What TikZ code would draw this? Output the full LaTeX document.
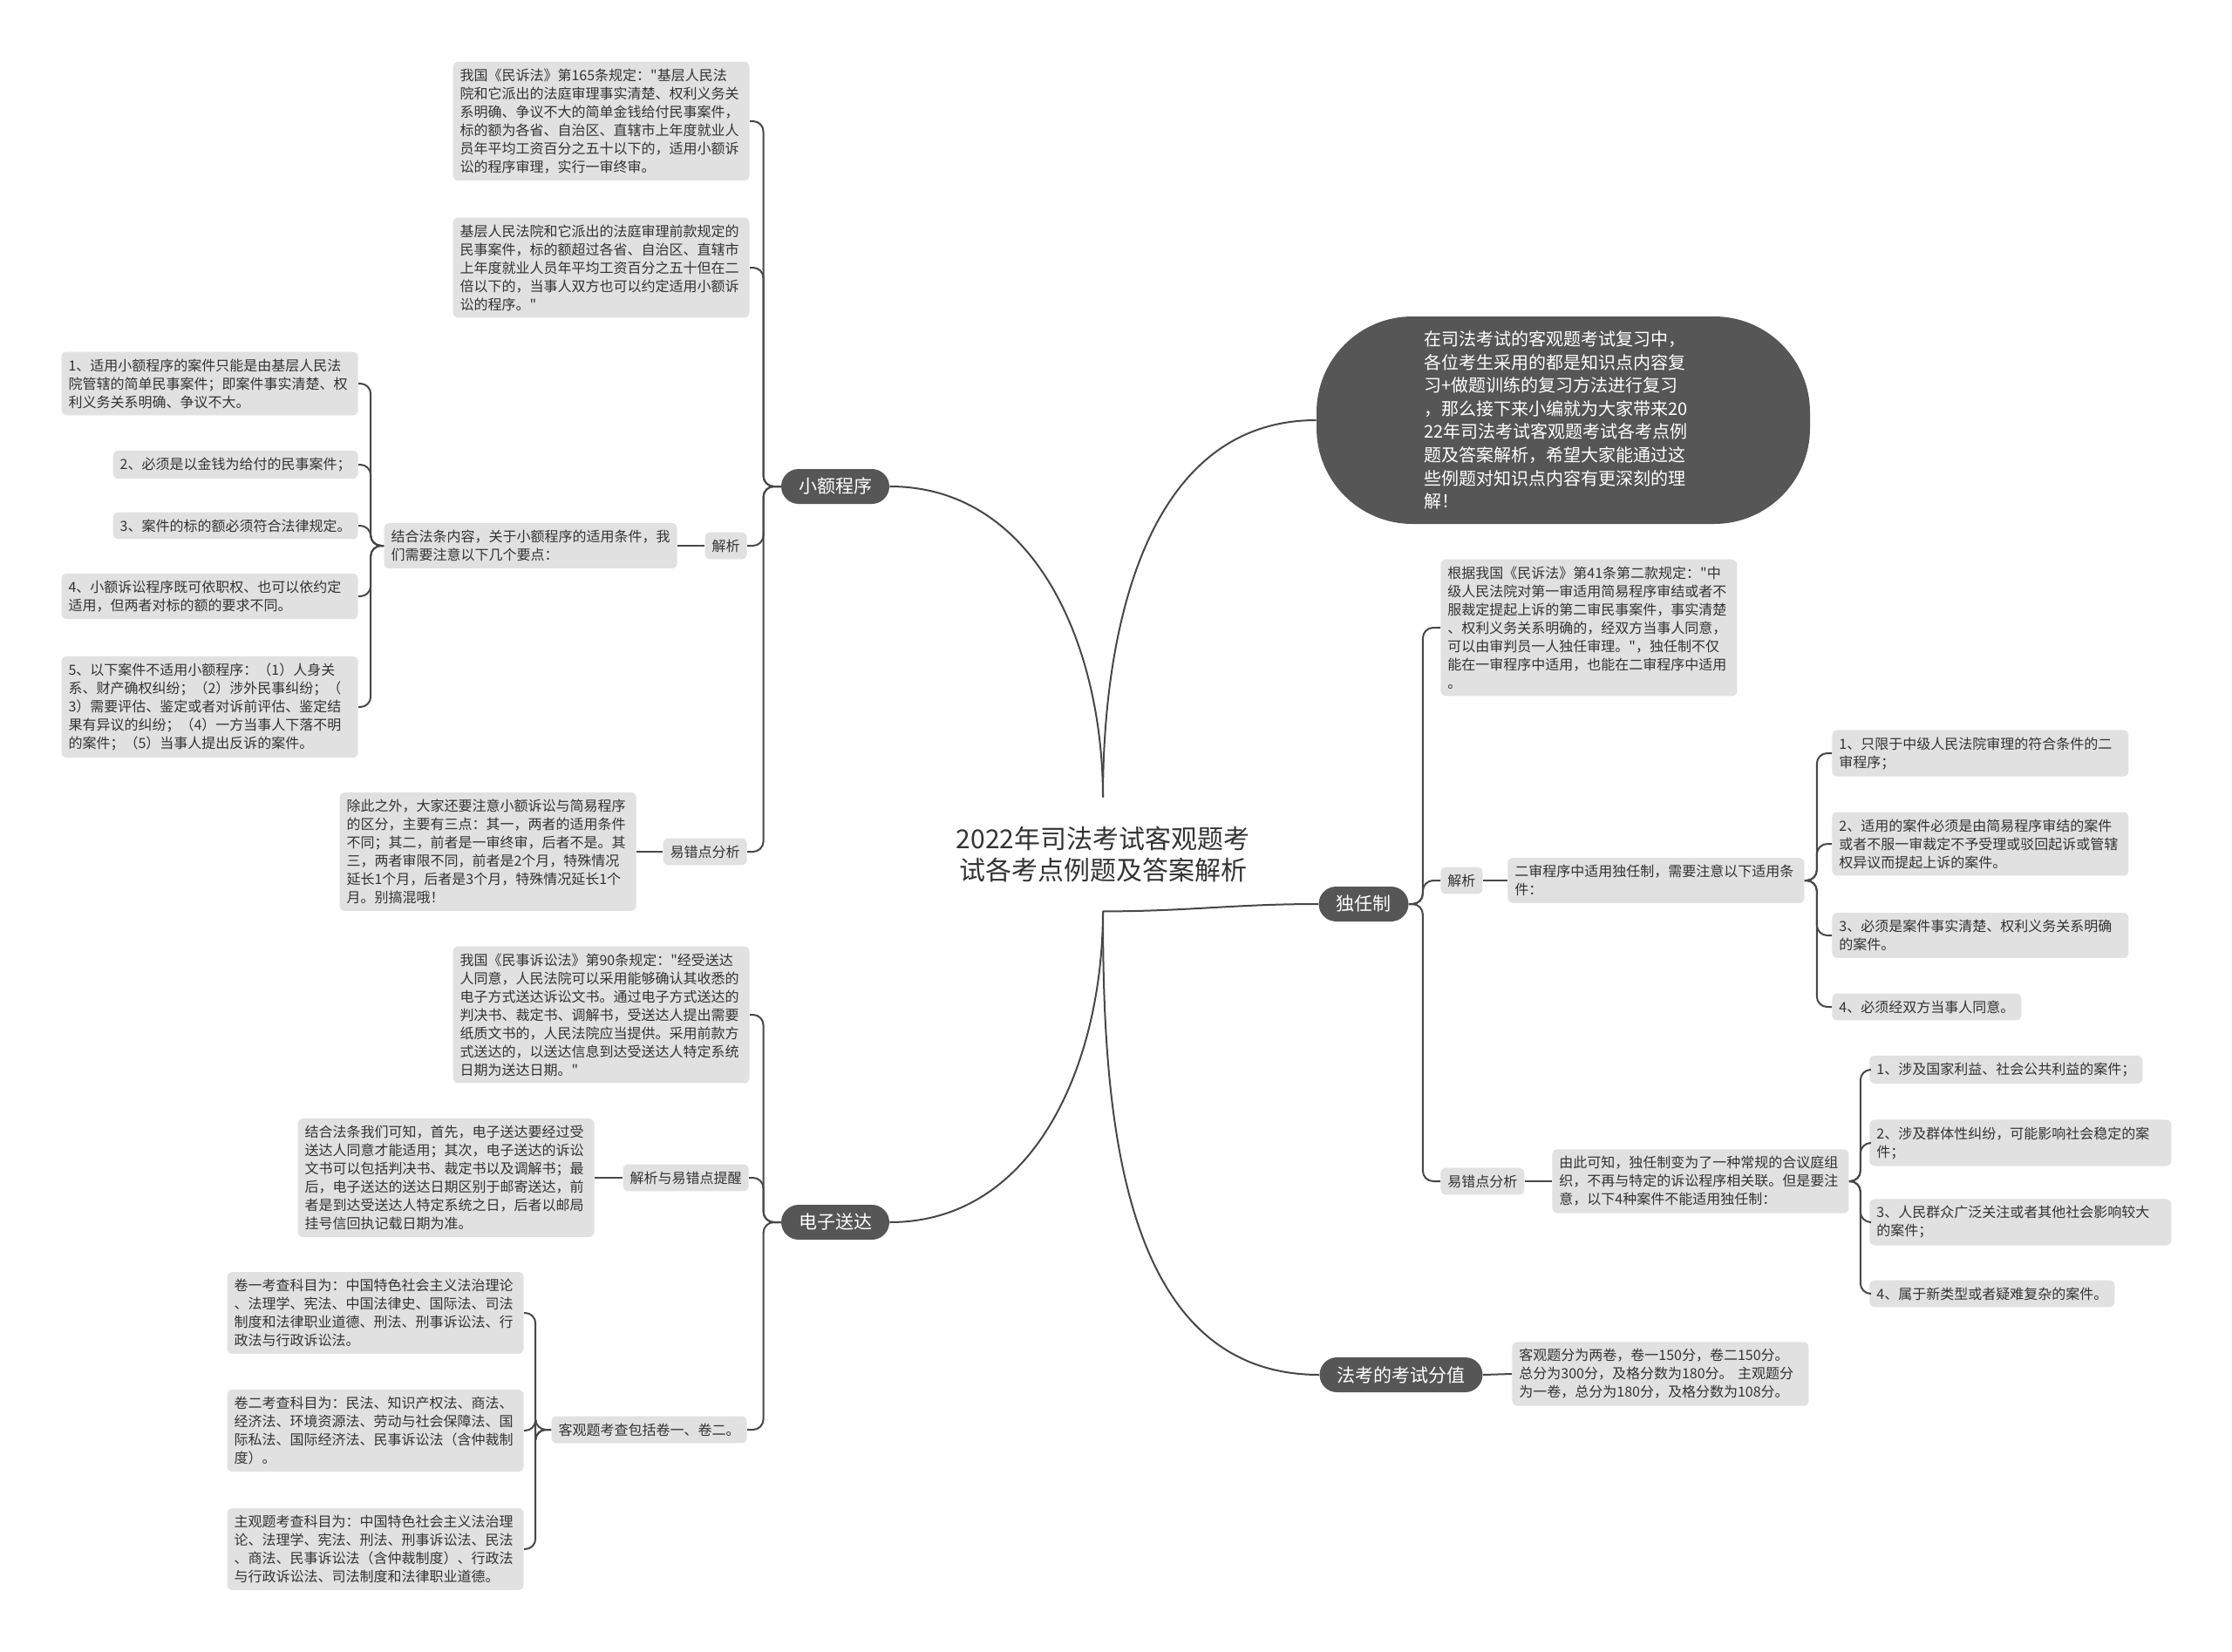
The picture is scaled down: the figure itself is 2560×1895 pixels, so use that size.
\documentclass[tikz,border=0pt]{standalone}
\usepackage{fontspec}
\setmainfont{Noto Sans CJK SC}[Ligatures=TeXOff]
\definecolor{dark}{HTML}{565656}
\definecolor{light}{HTML}{E1E1E1}
\definecolor{txt}{HTML}{333333}
\definecolor{edge}{HTML}{474747}
\begin{document}
\begin{tikzpicture}[
  x=0.5pt, y=-0.5pt,
  main/.style={fill=dark, text=white, rounded corners=10pt, minimum height=20pt, inner xsep=10pt, font=\fontsize{10.5}{13}\selectfont},
  box/.style={fill=light, text=txt, rounded corners=3pt, align=left, inner xsep=4pt, inner ysep=4pt, font=\fontsize{8}{10.5}\selectfont},
  wide/.style={box, text width=162pt},
  link/.style={draw=edge, line width=1pt, rounded corners=6pt}
]
\useasboundingbox (0,0) rectangle (2560,1895);

\node[align=center, text=txt, minimum height=65pt, font=\fontsize{15}{18}\selectfont] (root) at (1265,980) {2022年司法考试客观题考\\试各考点例题及答案解析};

\node[fill=dark, text=white, rounded corners=55pt, minimum width=283pt, minimum height=119pt, text width=160pt, align=left, font=\fontsize{10}{13.3}\selectfont] (intro) at (1793,482) {在司法考试的客观题考试复习中，\\各位考生采用的都是知识点内容复\\习+做题训练的复习方法进行复习\\，那么接下来小编就为大家带来20\\22年司法考试客观题考试各考点例\\题及答案解析，希望大家能通过这\\些例题对知识点内容有更深刻的理\\解！};

\node[main] (xe) at (958,558) {小额程序};
\node[main] (dz) at (958,1402) {电子送达};
\node[main] (dr) at (1564,1037) {独任制};
\node[main] (fk) at (1607,1577) {法考的考试分值};

% 小额程序
\node[wide, anchor=east] (xa) at (860,139) {我国《民诉法》第165条规定："基层人民法\\院和它派出的法庭审理事实清楚、权利义务关\\系明确、争议不大的简单金钱给付民事案件，\\标的额为各省、自治区、直辖市上年度就业人\\员年平均工资百分之五十以下的，适用小额诉\\讼的程序审理，实行一审终审。};
\node[wide, anchor=east] (xb) at (860,307) {基层人民法院和它派出的法庭审理前款规定的\\民事案件，标的额超过各省、自治区、直辖市\\上年度就业人员年平均工资百分之五十但在二\\倍以下的，当事人双方也可以约定适用小额诉\\讼的程序。"};
\node[box, anchor=east] (xj) at (857,626) {解析};
\node[box, anchor=east, text width=160pt] (xjt) at (777,626) {结合法条内容，关于小额程序的适用条件，我\\们需要注意以下几个要点：};
\node[wide, anchor=east] (x1) at (411,440) {1、适用小额程序的案件只能是由基层人民法\\院管辖的简单民事案件；即案件事实清楚、权\\利义务关系明确、争议不大。};
\node[box, anchor=east] (x2) at (411,533) {2、必须是以金钱为给付的民事案件；};
\node[box, anchor=east] (x3) at (411,603) {3、案件的标的额必须符合法律规定。};
\node[wide, anchor=east] (x4) at (411,684) {4、小额诉讼程序既可依职权、也可以依约定\\适用，但两者对标的额的要求不同。};
\node[wide, anchor=east] (x5) at (411,811) {5、以下案件不适用小额程序：（1）人身关\\系、财产确权纠纷；（2）涉外民事纠纷；（\\3）需要评估、鉴定或者对诉前评估、鉴定结\\果有异议的纠纷；（4）一方当事人下落不明\\的案件；（5）当事人提出反诉的案件。};
\node[box, anchor=east] (xy) at (857,977) {易错点分析};
\node[wide, anchor=east] (xyt) at (730,977) {除此之外，大家还要注意小额诉讼与简易程序\\的区分，主要有三点：其一，两者的适用条件\\不同；其二，前者是一审终审，后者不是。其\\三，两者审限不同，前者是2个月，特殊情况\\延长1个月，后者是3个月，特殊情况延长1个\\月。别搞混哦！};

% 电子送达
\node[wide, anchor=east] (da) at (860,1164) {我国《民事诉讼法》第90条规定："经受送达\\人同意，人民法院可以采用能够确认其收悉的\\电子方式送达诉讼文书。通过电子方式送达的\\判决书、裁定书、调解书，受送达人提出需要\\纸质文书的，人民法院应当提供。采用前款方\\式送达的，以送达信息到达受送达人特定系统\\日期为送达日期。"};
\node[box, anchor=east] (dj) at (859,1351) {解析与易错点提醒};
\node[wide, anchor=east] (djt) at (682,1351) {结合法条我们可知，首先，电子送达要经过受\\送达人同意才能适用；其次，电子送达的诉讼\\文书可以包括判决书、裁定书以及调解书；最\\后，电子送达的送达日期区别于邮寄送达，前\\者是到达受送达人特定系统之日，后者以邮局\\挂号信回执记载日期为准。};
\node[box, anchor=east] (dk) at (857,1640) {客观题考查包括卷一、卷二。};
\node[wide, anchor=east] (d1) at (601,1506) {卷一考查科目为：中国特色社会主义法治理论\\、法理学、宪法、中国法律史、国际法、司法\\制度和法律职业道德、刑法、刑事诉讼法、行\\政法与行政诉讼法。};
\node[wide, anchor=east] (d2) at (601,1641) {卷二考查科目为：民法、知识产权法、商法、\\经济法、环境资源法、劳动与社会保障法、国\\际私法、国际经济法、民事诉讼法（含仲裁制\\度）。};
\node[wide, anchor=east] (d3) at (601,1777) {主观题考查科目为：中国特色社会主义法治理\\论、法理学、宪法、刑法、刑事诉讼法、民法\\、商法、民事诉讼法（含仲裁制度）、行政法\\与行政诉讼法、司法制度和法律职业道德。};

% 独任制
\node[wide, anchor=west] (ra) at (1652,720) {根据我国《民诉法》第41条第二款规定："中\\级人民法院对第一审适用简易程序审结或者不\\服裁定提起上诉的第二审民事案件，事实清楚\\、权利义务关系明确的，经双方当事人同意，\\可以由审判员一人独任审理。"，独任制不仅\\能在一审程序中适用，也能在二审程序中适用\\。};
\node[box, anchor=west] (rj) at (1652,1010) {解析};
\node[wide, anchor=west] (rjt) at (1729,1010) {二审程序中适用独任制，需要注意以下适用条\\件：};
\node[wide, anchor=west] (r1) at (2101,864) {1、只限于中级人民法院审理的符合条件的二\\审程序；};
\node[wide, anchor=west] (r2) at (2101,968) {2、适用的案件必须是由简易程序审结的案件\\或者不服一审裁定不予受理或驳回起诉或管辖\\权异议而提起上诉的案件。};
\node[wide, anchor=west] (r3) at (2101,1073) {3、必须是案件事实清楚、权利义务关系明确\\的案件。};
\node[box, anchor=west] (r4) at (2101,1155) {4、必须经双方当事人同意。};
\node[box, anchor=west] (ry) at (1652,1355) {易错点分析};
\node[wide, anchor=west] (ryt) at (1780,1355) {由此可知，独任制变为了一种常规的合议庭组\\织，不再与特定的诉讼程序相关联。但是要注\\意，以下4种案件不能适用独任制：};
\node[box, anchor=west] (s1) at (2144,1227) {1、涉及国家利益、社会公共利益的案件；};
\node[wide, anchor=west, text width=165pt] (s2) at (2144,1311) {2、涉及群体性纠纷，可能影响社会稳定的案\\件；};
\node[wide, anchor=west, text width=165pt] (s3) at (2144,1402) {3、人民群众广泛关注或者其他社会影响较大\\的案件；};
\node[box, anchor=west] (s4) at (2144,1484) {4、属于新类型或者疑难复杂的案件。};

% 法考的考试分值
\node[wide, anchor=west] (fa) at (1734,1576) {客观题分为两卷，卷一150分，卷二150分。\\总分为300分，及格分数为180分。 主观题分\\为一卷，总分为180分，及格分数为108分。};

\draw[link] (root.north) to[out=90, in=0] (xe.east);
\draw[link] (root.north) to[out=90, in=180] (intro.west);
\draw[link] (root.south) to[out=0, in=180] (dr.west);
\draw[link] (root.south) to[out=270, in=0] (dz.east);
\draw[link] (root.south) to[out=270, in=180] (fk.west);

\foreach \c in {xa,xb,xj,xy} \draw[link] (xe.west) -- ++(-20,0) |- (\c.east);
\draw[link] (xj.west) -- (xjt.east);
\foreach \c in {x1,x2,x3,x4,x5} \draw[link] (xjt.west) -- ++(-15,0) |- (\c.east);
\draw[link] (xy.west) -- (xyt.east);

\foreach \c in {da,dj,dk} \draw[link] (dz.west) -- ++(-20,0) |- (\c.east);
\draw[link] (dj.west) -- (djt.east);
\foreach \c in {d1,d2,d3} \draw[link] (dk.west) -- ++(-18,0) |- (\c.east);

\foreach \c in {ra,rj,ry} \draw[link] (dr.east) -- ++(16,0) |- (\c.west);
\draw[link] (rj.east) -- (rjt.west);
\foreach \c in {r1,r2,r3,r4} \draw[link] (rjt.east) -- ++(14,0) |- (\c.west);
\draw[link] (ry.east) -- (ryt.west);
\foreach \c in {s1,s2,s3,s4} \draw[link] (ryt.east) -- ++(13,0) |- (\c.west);

\draw[link] (fk.east) -- (fa.west);
\end{tikzpicture}
\end{document}
